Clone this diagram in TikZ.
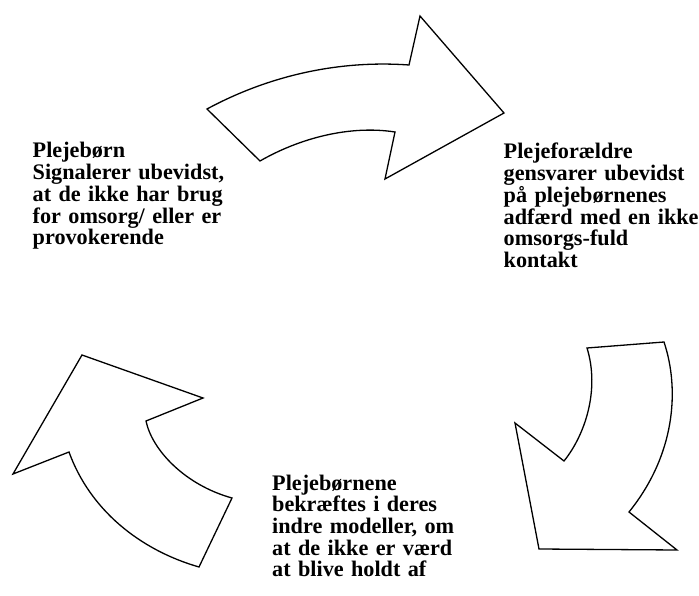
\documentclass[tikz,border=0pt]{standalone}
\usepackage{fontspec}
\setmainfont{Liberation Serif}
\begin{document}
\begin{tikzpicture}[x=1pt,y=-1pt,
  bigarrow/.style={draw=black,fill=white,line width=1.3pt,line join=miter},
  label/.style={anchor=base west,inner sep=0pt,align=left,text width=200pt,
    font=\fontsize{22.2}{21.7}\selectfont\bfseries}]
\useasboundingbox (0,0) rectangle (699,596);
% top arrow
\draw[bigarrow] (207,109) .. controls (270,75) and (340,60) .. (409,65)
  -- (420,16) -- (504,113) -- (385,179) -- (395,132)
  .. controls (350,125) and (300,138) .. (260,161) -- cycle;
% right-bottom arrow
\draw[bigarrow] (587,348) -- (664,342) .. controls (680,390) and (675,455) .. (629,512)
  -- (677,550) -- (539,549) -- (515,423) -- (564,461)
  .. controls (585,435) and (600,390) .. (587,348) -- cycle;
% left arrow
\draw[bigarrow] (82,355) -- (203,398) -- (146,421)
  .. controls (152,450) and (185,485) .. (232,498) -- (199,567)
  .. controls (140,550) and (90,510) .. (69,452) -- (13,474) -- cycle;
% texts
\node[label] (t1) at (32.5,158) {Plejebørn\\Signalerer ubevidst,\\at de ikke har brug\\for omsorg/ eller er\\provokerende};
\node[label] (t2) at (503.5,159) {Plejeforældre\\gensvarer ubevidst\\på plejebørnenes\\adfærd med en ikke\\omsorgs-fuld\\kontakt};
\node[label] (t3) at (272,490) {Plejebørnene\\bekræftes i deres\\indre modeller, om\\at de ikke er værd\\at blive holdt af};
\end{tikzpicture}
\end{document}
